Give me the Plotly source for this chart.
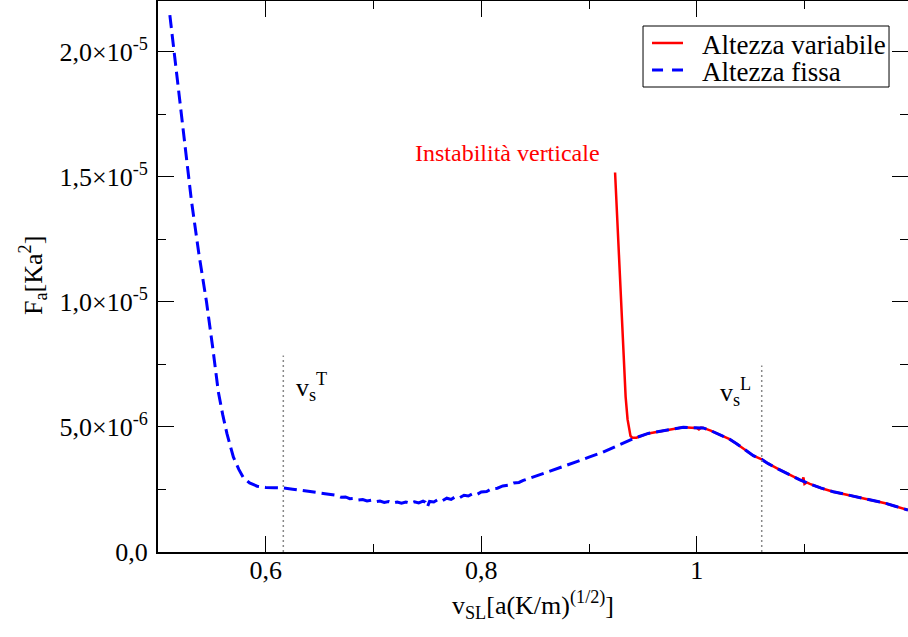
import plotly.graph_objects as go

# Fixed-height branch (dashed blue): x in a(K/m)^(1/2), F in units of 1e-6 Ka^2
x_fissa = [0.511, 0.515, 0.520, 0.525, 0.531, 0.538, 0.545, 0.551, 0.556, 0.560,
           0.564, 0.570, 0.575, 0.579, 0.585, 0.592, 0.600, 0.608, 0.616, 0.625,
           0.632, 0.640, 0.647, 0.655, 0.662, 0.666, 0.670, 0.674, 0.678, 0.682,
           0.686, 0.690, 0.694, 0.698, 0.702, 0.706, 0.710, 0.714, 0.718, 0.722,
           0.726, 0.730, 0.734, 0.738, 0.742, 0.746, 0.748, 0.750, 0.752, 0.756,
           0.760, 0.764, 0.768, 0.772, 0.776, 0.780, 0.784, 0.788, 0.792, 0.796,
           0.800, 0.805, 0.810, 0.815, 0.820, 0.825, 0.830, 0.835, 0.839, 0.850,
           0.860, 0.870, 0.880, 0.890, 0.900, 0.913, 0.925, 0.941, 0.955, 0.970,
           0.980, 0.9875, 0.995, 1.000, 1.006, 1.013, 1.0216, 1.030, 1.037, 1.045,
           1.0525, 1.0603, 1.0664, 1.075, 1.085, 1.0958, 1.105, 1.115, 1.1267, 1.135,
           1.145, 1.1577, 1.165, 1.175, 1.185, 1.1918, 1.196]
f_fissa = [21.46, 20.00, 18.10, 16.10, 14.05, 11.90, 10.00, 8.10, 6.40, 5.50,
           4.73, 3.79, 3.30, 2.99, 2.76, 2.63, 2.58, 2.57, 2.56, 2.51,
           2.46, 2.42, 2.38, 2.33, 2.27, 2.26, 2.19, 2.20, 2.13, 2.14,
           2.08, 2.10, 2.04, 2.07, 2.01, 2.04, 1.98, 2.02, 1.96, 2.00,
           1.95, 2.00, 1.95, 2.01, 1.96, 2.03, 1.99, 1.80, 2.02, 2.00,
           2.10, 2.05, 2.15, 2.10, 2.21, 2.17, 2.27, 2.24, 2.33, 2.30,
           2.40, 2.42, 2.53, 2.55, 2.64, 2.67, 2.76, 2.78, 2.86, 3.02,
           3.17, 3.33, 3.48, 3.63, 3.79, 3.99, 4.22, 4.53, 4.74, 4.86,
           4.94, 4.99, 4.97, 4.97, 4.96, 4.85, 4.68, 4.52, 4.33, 4.10,
           3.85, 3.70, 3.53, 3.33, 3.10, 2.88, 2.72, 2.56, 2.41, 2.33,
           2.24, 2.13, 2.04, 1.95, 1.82, 1.73, 1.68]

# Variable-height branch (solid red)
x_variabile = [0.9242, 0.9295, 0.9340, 0.9358, 0.9372, 0.9385, 0.9400, 0.944, 0.955, 0.970,
               0.980, 0.9875, 0.995, 1.000, 1.002, 1.004, 1.006, 1.013, 1.0216, 1.030,
               1.037, 1.045, 1.0525, 1.0603, 1.0664, 1.075, 1.085, 1.0958, 1.098, 1.099,
               1.100, 1.102, 1.105, 1.115, 1.1267, 1.135, 1.145, 1.1577, 1.165, 1.175,
               1.185, 1.1918, 1.196]
f_variabile = [15.17, 10.45, 6.20, 5.30, 4.85, 4.64, 4.57, 4.57, 4.74, 4.86,
               4.94, 4.99, 4.97, 4.96, 4.90, 4.97, 4.96, 4.85, 4.68, 4.52,
               4.33, 4.10, 3.85, 3.70, 3.53, 3.33, 3.10, 2.88, 2.84, 2.98,
               2.72, 2.78, 2.72, 2.56, 2.41, 2.33, 2.24, 2.13, 2.04, 1.95,
               1.82, 1.73, 1.68]

series_names = ["Altezza variabile", "Altezza fissa"]
series_colors = ["#ff0000", "#0000ff"]

# Characteristic speeds marked with dotted guides
v_s_T = 0.6163
v_s_L = 1.0603
guide_top_T = 7.85
guide_top_L = 7.45

x_tick_vals = [0.6, 0.8, 1.0]
x_tick_text = ["0,6", "0,8", "1"]
x_minor_vals = [0.7, 0.9, 1.1]
y_tick_vals = [0.0, 5e-6, 1e-5, 1.5e-5, 2e-5]
y_tick_text = ["0,0", "5,0×10<sup>-6</sup>", "1,0×10<sup>-5</sup>",
               "1,5×10<sup>-5</sup>", "2,0×10<sup>-5</sup>"]
y_minor_vals = [2.5e-6, 7.5e-6, 1.25e-5, 1.75e-5]

SCALE = 1e-6
SERIF = "Liberation Serif"
X_RANGE = [0.5, 1.19606]
Y_RANGE = [0.0, 2.2024e-5]
DASH = "13px,6px"

fig = go.Figure()

fig.add_trace(go.Scatter(
    x=x_variabile, y=[v * SCALE for v in f_variabile], mode="lines",
    name=series_names[0], showlegend=False,
    line=dict(color=series_colors[0], width=2.5)))
fig.add_trace(go.Scatter(
    x=x_fissa, y=[v * SCALE for v in f_fissa], mode="lines",
    name=series_names[1], showlegend=False,
    line=dict(color=series_colors[1], width=3, dash=DASH)))

for xv, top in [(v_s_T, guide_top_T), (v_s_L, guide_top_L)]:
    fig.add_trace(go.Scatter(
        x=[xv, xv], y=[0, top * SCALE], mode="lines", showlegend=False,
        yaxis="y2", line=dict(color="#888888", width=1.5, dash="2px,3px"),
        hoverinfo="skip"))

axis_font = dict(family=SERIF, size=26, color="black")

fig.update_layout(
    width=908, height=637,
    margin=dict(l=158, r=0, t=1, b=85),
    paper_bgcolor="white", plot_bgcolor="white",
    font=dict(family=SERIF, size=26, color="black"),
    showlegend=False,
    xaxis=dict(
        range=X_RANGE, showgrid=False, zeroline=False,
        showline=True, linecolor="black", linewidth=2, mirror="ticks",
        ticks="inside", ticklen=16, tickwidth=1, tickcolor="black",
        tickvals=x_tick_vals, ticktext=x_tick_text, tickfont=axis_font,
        ticklabelstandoff=-6,
        minor=dict(tickvals=x_minor_vals, ticks="inside", ticklen=8,
                   tickwidth=1, tickcolor="black", showgrid=False),
    ),
    yaxis=dict(
        range=Y_RANGE, showgrid=False, zeroline=False,
        showline=True, linecolor="black", linewidth=2, mirror=False,
        ticks="inside", ticklen=16, tickwidth=1, tickcolor="black",
        tickvals=y_tick_vals, ticktext=y_tick_text, tickfont=axis_font,
        ticklabelstandoff=3,
        minor=dict(tickvals=y_minor_vals, ticks="inside", ticklen=8,
                   tickwidth=1, tickcolor="black", showgrid=False),
    ),
    yaxis2=dict(
        range=Y_RANGE, overlaying="y", side="right", anchor="x",
        showgrid=False, zeroline=False, showline=False,
        ticks="inside", ticklen=16, tickwidth=1, tickcolor="black",
        tickvals=y_tick_vals, showticklabels=False,
        minor=dict(tickvals=y_minor_vals, ticks="inside", ticklen=8,
                   tickwidth=1, tickcolor="black", showgrid=False),
    ),
)

# Legend box with compact rows
LEG_X0, LEG_X1, LEG_Y0, LEG_Y1 = 0.6467, 0.9747, 0.8439, 0.9546
row_y = [0.9238, 0.8748]
fig.add_shape(type="rect", xref="paper", yref="paper",
              x0=LEG_X0, x1=LEG_X1, y0=LEG_Y0, y1=LEG_Y1,
              line=dict(color="black", width=1), fillcolor="white", layer="above")
fig.add_shape(type="line", xref="paper", yref="paper",
              x0=0.6587, x1=0.7, y0=row_y[0], y1=row_y[0], layer="above",
              line=dict(color=series_colors[0], width=2.5))
fig.add_shape(type="line", xref="paper", yref="paper",
              x0=0.6587, x1=0.7, y0=row_y[1], y1=row_y[1], layer="above",
              line=dict(color=series_colors[1], width=3, dash="11px,9px"))
for name, ry in zip(series_names, row_y):
    fig.add_annotation(
        text=name, x=0.7227, y=ry - 0.003, xref="paper", yref="paper",
        xanchor="left", yanchor="middle", showarrow=False,
        font=dict(family=SERIF, size=27, color="black"))

fig.add_annotation(
    text="Instabilità verticale", x=0.8244, y=15.96 * SCALE,
    xref="x", yref="y", showarrow=False,
    font=dict(family=SERIF, size=24, color="#ff0000"))
fig.add_annotation(
    text="v<sub>s</sub><sup>T</sup>", x=0.6425, y=6.61 * SCALE,
    xref="x", yref="y", showarrow=False,
    font=dict(family=SERIF, size=26, color="black"))
fig.add_annotation(
    text="v<sub>s</sub><sup>L</sup>", x=1.0355, y=6.41 * SCALE,
    xref="x", yref="y", showarrow=False,
    font=dict(family=SERIF, size=26, color="black"))

fig.add_annotation(
    text="F<sub>a</sub>[Ka<sup>2</sup>]", x=-0.1667, y=0.5027,
    xref="paper", yref="paper", showarrow=False, textangle=-90,
    xanchor="center", yanchor="middle",
    font=dict(family=SERIF, size=26, color="black"))
fig.add_annotation(
    text="v<sub>SL</sub>[a(K/m)<sup>(1/2)</sup>]", x=0.5, y=-0.096,
    xref="paper", yref="paper", showarrow=False,
    xanchor="center", yanchor="middle",
    font=dict(family=SERIF, size=26, color="black"))

fig.write_html("out.html")
